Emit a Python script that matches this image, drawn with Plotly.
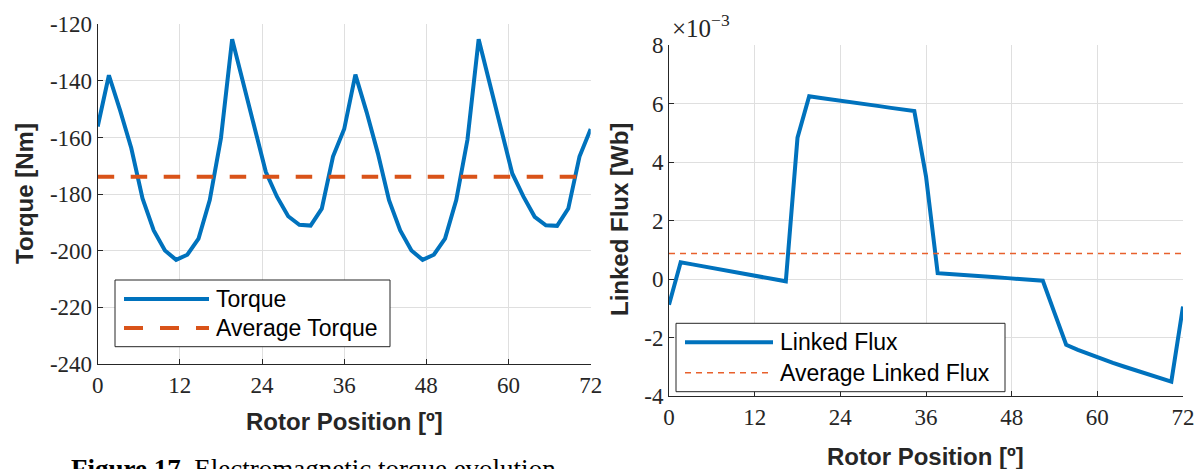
import numpy as np
import plotly.graph_objects as go

W, H = 1203, 469

# ---- data -------------------------------------------------------------
# rotor position samples: 45 points spanning 0..72 degrees
rotor_pos = np.linspace(0, 72, 45)

torque_nm = [
    -156.1, -138.0, -150.4, -163.8, -181.5, -192.8, -199.9, -203.2, -201.4,
    -195.7, -182.1, -160.2, -125.3, -140.7, -155.5, -172.1, -180.9, -187.8,
    -190.8, -191.1, -185.1, -166.7, -157.0, -137.8, -151.0, -165.5, -182.1,
    -192.8, -199.9, -203.2, -201.4, -195.7, -182.1, -160.8, -125.3, -140.7,
    -156.1, -172.7, -180.9, -188.0, -191.0, -191.2, -185.1, -166.7, -157.0,
]

# linked flux in units of 1e-3 Wb
linked_flux_mwb = [
    -0.88, 0.57, 0.50, 0.43, 0.35, 0.28, 0.21, 0.14, 0.06, -0.01, -0.08,
    4.83, 6.25, 6.19, 6.14, 6.08, 6.02, 5.97, 5.91, 5.85, 5.80, 5.74,
    3.51, 0.20, 0.17, 0.15, 0.12, 0.09, 0.06, 0.03, 0.00, -0.03, -0.06,
    -1.16, -2.25, -2.42, -2.58, -2.73, -2.87, -3.00, -3.13, -3.25, -3.38,
    -3.51, -0.94,
]

x_ticks = [0, 12, 24, 36, 48, 60, 72]
torque_ticks = [-240, -220, -200, -180, -160, -140, -120]
flux_ticks = [-4, -2, 0, 2, 4, 6, 8]

# the last sample repeats the first position of the period
avg_torque = float(np.mean(torque_nm[:-1]))
avg_flux = float(np.mean(linked_flux_mwb))

BLUE = "#0072BD"
ORANGE = "#D95319"
ORANGE_THIN = "#E8602C"
AX = "#262626"
GRID = "#DFDFDF"
TICK_FONT = dict(family="Liberation Serif", size=23, color=AX)
TITLE_FONT = dict(family="Liberation Sans", size=24, color=AX)
LEG_FONT = dict(family="Liberation Sans", size=23, color="black")


def px(x):
    return x / W


def py(y):
    return 1 - y / H


fig = go.Figure()

fig.add_trace(go.Scatter(x=rotor_pos, y=torque_nm, mode="lines",
                         line=dict(color=BLUE, width=4),
                         xaxis="x", yaxis="y", showlegend=False,
                         name="Torque"))
fig.add_trace(go.Scatter(x=[0, 72], y=[avg_torque, avg_torque], mode="lines",
                         line=dict(color=ORANGE, width=4, dash="16.5px,16.5px"),
                         xaxis="x", yaxis="y", showlegend=False,
                         name="Average Torque"))
fig.add_trace(go.Scatter(x=rotor_pos, y=linked_flux_mwb, mode="lines",
                         line=dict(color=BLUE, width=4),
                         xaxis="x2", yaxis="y2", showlegend=False,
                         name="Linked Flux"))
fig.add_trace(go.Scatter(x=[0, 72], y=[avg_flux, avg_flux], mode="lines",
                         line=dict(color=ORANGE_THIN, width=1.5, dash="6px,5px"),
                         xaxis="x2", yaxis="y2", showlegend=False,
                         name="Average Linked Flux"))

axis_common = dict(showgrid=True, gridcolor=GRID, gridwidth=1,
                   showline=True, linecolor=AX, linewidth=1,
                   ticks="inside", ticklen=5, tickcolor=AX, tickwidth=1,
                   zeroline=False, tickfont=TICK_FONT, mirror=False,
                   automargin=False)

fig.update_layout(
    width=W, height=H,
    margin=dict(l=0, r=0, t=0, b=0, autoexpand=False),
    paper_bgcolor="white", plot_bgcolor="white",
    xaxis=dict(domain=[px(97.7), px(590.7)], range=[0, 72], anchor="y",
               tickmode="array", tickvals=x_ticks,
               ticktext=[str(v) for v in x_ticks], **axis_common),
    yaxis=dict(domain=[py(364), py(24.3)], range=[-240, -120], anchor="x",
               tickmode="array", tickvals=torque_ticks,
               ticktext=[str(v) for v in torque_ticks], **axis_common),
    xaxis2=dict(domain=[px(669), px(1183)], range=[0, 72], anchor="y2",
                tickmode="array", tickvals=x_ticks,
                ticktext=[str(v) for v in x_ticks], **axis_common),
    yaxis2=dict(domain=[py(396), py(45)], range=[-4, 8], anchor="x2",
                tickmode="array", tickvals=flux_ticks,
                ticktext=[str(v) for v in flux_ticks], **axis_common),
)

shapes = []
annotations = []

# axis titles
annotations.append(dict(text="<b>Rotor Position [º]</b>", x=px(344), y=py(421),
                        xref="paper", yref="paper", showarrow=False,
                        xanchor="center", yanchor="middle", font=TITLE_FONT))
annotations.append(dict(text="<b>Torque [Nm]</b>", x=px(24), y=py(194),
                        xref="paper", yref="paper", showarrow=False,
                        textangle=-90, xanchor="center", yanchor="middle",
                        font=TITLE_FONT))
annotations.append(dict(text="<b>Rotor Position [º]</b>", x=px(926), y=py(456),
                        xref="paper", yref="paper", showarrow=False,
                        xanchor="center", yanchor="middle", font=TITLE_FONT))
annotations.append(dict(text="<b>Linked Flux [Wb]</b>", x=px(619), y=py(220),
                        xref="paper", yref="paper", showarrow=False,
                        textangle=-90, xanchor="center", yanchor="middle",
                        font=TITLE_FONT))

# exponent of the flux axis
annotations.append(dict(text="×10<sup>−3</sup>", x=px(670), y=py(26),
                        xref="paper", yref="paper", showarrow=False,
                        xanchor="left", yanchor="middle",
                        font=dict(family="Liberation Serif", size=25, color=AX)))

# figure caption (runs past the bottom edge of the page)
annotations.append(dict(text="<b>Figure 17.</b> Electromagnetic torque evolution",
                        x=px(69), y=py(452), xref="paper", yref="paper",
                        showarrow=False, xanchor="left", yanchor="top",
                        font=dict(family="Liberation Serif", size=27, color="black")))


def legend(box, entries):
    x0, y0, x1, y1 = box
    shapes.append(dict(type="rect", xref="paper", yref="paper",
                       x0=px(x0), x1=px(x1), y0=py(y1), y1=py(y0),
                       line=dict(color=AX, width=1), fillcolor="white",
                       layer="above"))
    for (lx0, lx1, ly, tx, name, style) in entries:
        shapes.append(dict(type="line", xref="paper", yref="paper",
                           x0=px(lx0), x1=px(lx1), y0=py(ly), y1=py(ly),
                           line=style, layer="above"))
        annotations.append(dict(text=name, x=px(tx), y=py(ly),
                                xref="paper", yref="paper", showarrow=False,
                                xanchor="left", yanchor="middle", font=LEG_FONT))


legend((115, 280, 390, 346.7), [
    (124, 209, 299, 214, "Torque", dict(color=BLUE, width=4)),
    (124, 209, 328, 214, "Average Torque",
     dict(color=ORANGE, width=4, dash="19px,17px")),
])
legend((676, 323.3, 1005, 391.7), [
    (685, 773, 342.3, 778, "Linked Flux", dict(color=BLUE, width=4)),
    (685, 773, 372.7, 778, "Average Linked Flux",
     dict(color=ORANGE_THIN, width=1.5, dash="6px,5px")),
])

fig.update_layout(shapes=shapes, annotations=annotations)

fig.write_html("out.html")
